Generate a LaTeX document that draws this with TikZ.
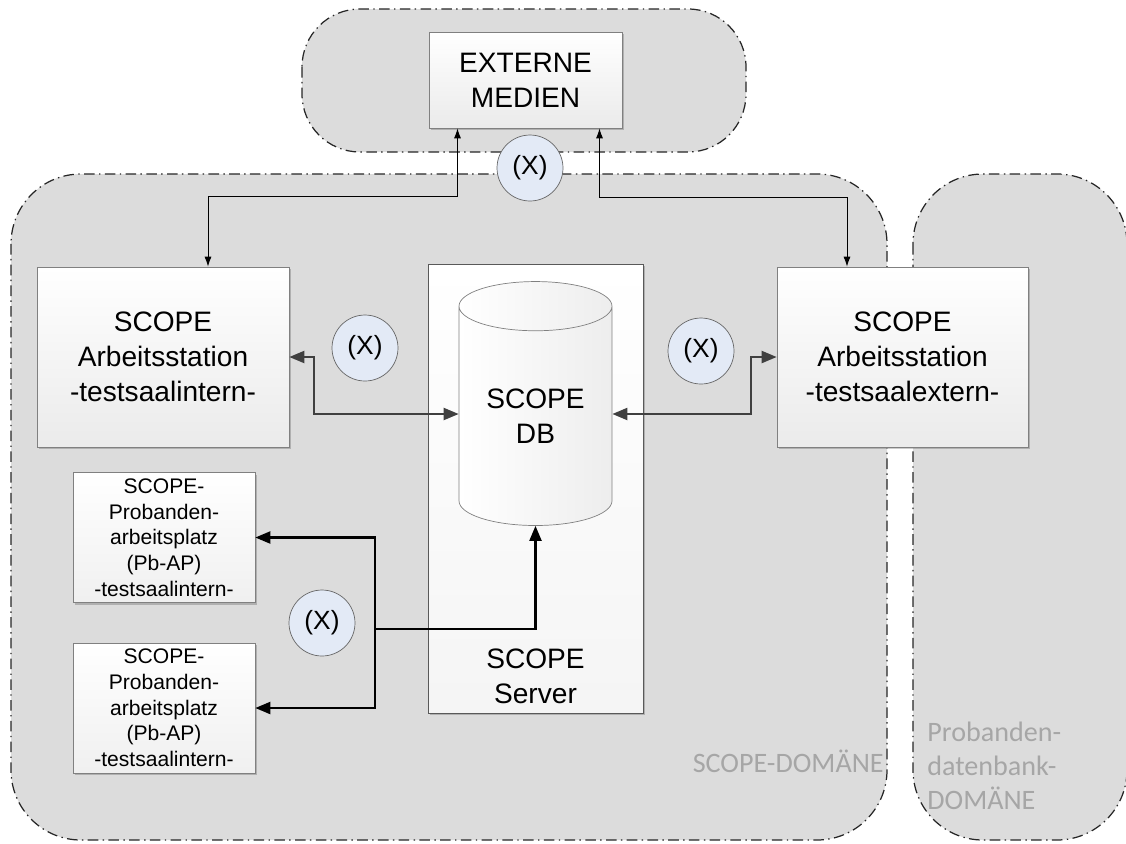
\documentclass[tikz,border=0pt]{standalone}
\usepackage{fontspec}
\setmainfont{Liberation Sans}
\newfontfamily\domfont{Carlito}
\usetikzlibrary{calc}
\usetikzlibrary{shapes.geometric}
\usetikzlibrary{arrows.meta}
\usetikzlibrary{shadows}
\definecolor{domaingray}{RGB}{220,220,220}
\definecolor{xblue}{RGB}{227,234,246}
\definecolor{labelgray}{RGB}{166,166,166}
\definecolor{arrowgray}{RGB}{64,64,64}
\tikzset{
  domainbox/.style={fill=domaingray, draw=black!85, line width=0.7pt, dash pattern=on 6pt off 2.5pt on 0.8pt off 2.5pt},
  domlabel/.style={labelgray, font=\domfont\fontsize{16}{19.3}\selectfont, inner sep=0pt},
  bigfont/.style={font=\fontsize{16}{19.8}\selectfont},
  wsbox/.style={rectangle, draw=gray, top color=white, bottom color=gray!16, align=center, bigfont,
    drop shadow={shadow xshift=0.04cm, shadow yshift=-0.04cm, fill=black, opacity=0.2}},
  pbbox/.style={rectangle, draw=gray, top color=white, bottom color=gray!12, align=center,
    font=\fontsize{12}{14.6}\selectfont, minimum width=3.64cm, minimum height=2.6cm,
    drop shadow={shadow xshift=0.04cm, shadow yshift=-0.04cm, fill=black, opacity=0.2}},
  serverbox/.style={rectangle, draw=black!65, top color=white, bottom color=gray!8, minimum width=4.3cm, minimum height=8.98cm,
    drop shadow={shadow xshift=0.04cm, shadow yshift=-0.04cm, fill=black, opacity=0.2}},
  dbcyl/.style={cylinder, shape border rotate=90, aspect=0.5, draw=gray, left color=white, right color=gray!14,
    minimum width=3.06cm, minimum height=4.88cm, inner sep=0pt, align=center, bigfont},
  xcircle/.style={circle, draw=black!60, fill=xblue, minimum size=1.32cm, inner sep=0pt, font=\fontsize{15}{18}\selectfont},
  thinarrow/.style={draw, black, line width=0.55pt, {Latex[length=2mm,width=1.4mm]}-{Latex[length=2mm,width=1.4mm]}},
  grayarrow/.style={draw, arrowgray, line width=1.2pt, {Triangle[length=3mm,width=2.4mm]}-{Triangle[length=3mm,width=2.4mm]}},
  blackarrow/.style={draw, black, line width=1.2pt, -{Triangle[length=3mm,width=2.4mm]}}
  }

\begin{document}
\begin{tikzpicture}[x=0.02cm, y=-0.02cm]
	\useasboundingbox (0,0) rectangle (1126,843);
	% Domains
	\draw [domainbox, rounded corners=1.16cm] (302,9) rectangle (746,152);
	\draw [domainbox, rounded corners=1.4cm] (11,174) rectangle (887,840);
	\draw [domainbox, rounded corners=1.4cm] (913,174) rectangle (1127,840);
	\node [domlabel, anchor=base east] (scopeDom) at (884,772) {SCOPE-DOMÄNE};
	\node [domlabel, align=left, anchor=west] (probDom) at (927,766) {Probanden-\\datenbank-\\DOMÄNE};

	% Nodes
	\node [wsbox, minimum width=3.86cm, minimum height=1.92cm] (externe) at (525.5,80) {EXTERNE\\MEDIEN};
	\node [wsbox, minimum width=5.04cm, minimum height=3.6cm] (wsIntern) at (163,357) {SCOPE\\Arbeitsstation\\-testsaalintern-};
	\node [wsbox, minimum width=5.02cm, minimum height=3.6cm] (wsExtern) at (902.5,357) {SCOPE\\Arbeitsstation\\-testsaalextern-};
	\node [serverbox] (server) at (535.5,488.5) {};
	\node [bigfont, align=center] (serverLabel) at (535.5,676) {SCOPE\\Server};
	\node [dbcyl] (db) at (535.5,416) {SCOPE\\DB};
	\node [pbbox] (pbOben) at (164,537.5) {SCOPE-\\Probanden-\\arbeitsplatz\\(Pb-AP)\\-testsaalintern-};
	\node [pbbox] (pbUnten) at (164,708) {SCOPE-\\Probanden-\\arbeitsplatz\\(Pb-AP)\\-testsaalintern-};

	% Interfaces
	\node [xcircle] (xTop) at (530,168) {(X)};
	\node [xcircle] (xLeft) at (365,348) {(X)};
	\node [xcircle] (xRight) at (701,351) {(X)};
	\node [xcircle] (xBottom) at (322,623) {(X)};

	% Arrows
	\draw [thinarrow] ($(externe.south)+(-68,0)$) -- ++(0,68) -| ($(wsIntern.north)+(45,0)$);
	\draw [thinarrow] ($(externe.south)+(74,0)$) -- ++(0,69) -| ($(wsExtern.north)+(-55.5,0)$);
	\draw [grayarrow] (wsIntern.east) -- ++(25,0) |- ($(db.west)+(0,-2)$);
	\draw [grayarrow] (wsExtern.west) -- ++(-26,0) |- ($(db.east)+(0,-2)$);
	% Arrows to Pb-AP
	\coordinate (split) at (375,629);
	\draw [blackarrow] (split) -| (db.south);
	\draw [blackarrow] (split) |- (pbOben.east);
	\draw [blackarrow] (split) |- (pbUnten.east);
\end{tikzpicture}
\end{document}
